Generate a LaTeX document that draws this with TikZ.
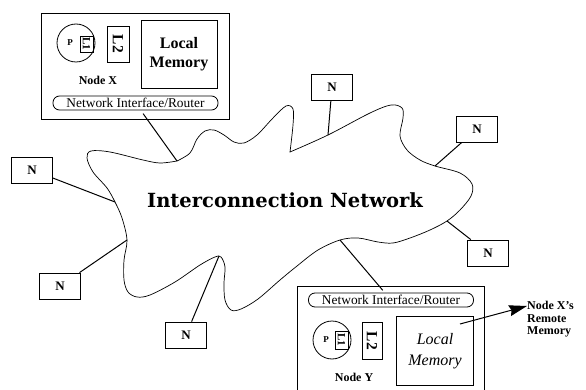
\documentclass[tikz,border=0pt]{standalone}
\usepackage{fontspec}
\setmainfont{Liberation Serif}
\newfontfamily\cloudfont{DejaVu Serif}
\usepackage{tikz}
\usetikzlibrary{positioning}
\usetikzlibrary{arrows.meta}
\tikzset{
    nbox/.style={draw, line width=0.8pt, minimum width=41pt, minimum height=26pt, inner sep=0pt, font=\fontsize{13}{13}\selectfont\bfseries}, % 外围结点 N
    hostbox/.style={draw, line width=0.8pt, inner sep=0pt}, % 结点外框
    router/.style={draw, rounded corners=6.5pt, line width=0.8pt, minimum width=165pt, minimum height=14pt, inner sep=0pt, font=\fontsize{13.4}{13.4}\selectfont}, % 网络接口
    cache/.style={draw, line width=0.8pt, rotate=-90, inner sep=0pt, font=\bfseries}, % L1 / L2
    link/.style={line width=1pt}, % 连线
    cloud/.style={line width=0.7pt} % 互连网络轮廓
}

\begin{document}
\begin{tikzpicture}[x=1pt, y=-1pt]
          \clip (0,0) rectangle (586,390);

          % --- 1. 互连网络 (云) ---
          \draw[cloud]
              plot[smooth, tension=0.55] coordinates {(177,161) (190,153) (197,139) (205,131) (214,130) (224,135) (234,142) (244,143) (257,135) (273,118) (286,106) (293,109) (293,125) (290,152)}
              -- plot[smooth, tension=0.55] coordinates {(290,152) (328,135) (370,113) (391,105) (402,108) (403,118) (400,136) (407,150) (420,160) (435,166) (460,173) (472,184) (471,196) (460,210) (447,221) (430,230) (410,238) (393,243) (378,242) (358,238) (340,240) (318,250) (297,266) (280,280) (258,299) (241,309) (231,310) (225,300) (224,283) (225,267) (221,257) (215,257) (200,265) (175,282) (150,295) (137,297) (128,292) (124,280) (124,260) (127,240) (122,218) (115,202) (107,188) (93,172) (87,158) (91,151) (110,152) (143,160) (160,163) (177,161)}
              -- cycle;
          \node[font=\cloudfont\fontsize{19.5}{19.5}\selectfont\bfseries] (net) at (285,200) {Interconnection Network};

          % 云上的连接点
          \coordinate (cX) at (177,161);
          \coordinate (cY) at (340,240);
          \coordinate (t1) at (328,135);
          \coordinate (t2) at (435,166);
          \coordinate (t3) at (115,202);
          \coordinate (t4) at (447,221);
          \coordinate (t5) at (127,240);
          \coordinate (t6) at (219,256);

          % --- 2. Node X ---
          \node[hostbox, minimum width=188pt, minimum height=106pt] (nodeX) at (135,66) {};
          \node[draw, circle, line width=0.8pt, minimum size=38pt, inner sep=0pt] (procX) at (76,43) {};
          \node[font=\fontsize{9}{9}\selectfont\bfseries] (pX) at (70,43) {P};
          \node[cache, minimum width=16pt, minimum height=13pt, font=\fontsize{11}{11}\selectfont\bfseries] (l1X) at (86.5,44) {L1};
          \node[cache, minimum width=36pt, minimum height=22pt, font=\fontsize{15.5}{15.5}\selectfont\bfseries] (l2X) at (118,44) {L2};
          \node[hostbox, minimum width=76pt, minimum height=68pt, align=center, font=\fontsize{16}{19}\selectfont\bfseries] (memX) at (179,54) {Local\\Memory};
          \node[font=\fontsize{12}{12}\selectfont\bfseries] (labelX) at (98,80) {Node X};
          \node[router] (niX) at (135.5,103) {Network Interface/Router};

          % --- 3. Node Y ---
          \node[hostbox, minimum width=187pt, minimum height=120pt, anchor=north west] (nodeY) at (297,286) {};
          \node[router] (niY) at (391,300) {Network Interface/Router};
          \node[draw, circle, line width=0.8pt, minimum size=38pt, inner sep=0pt] (procY) at (332,340) {};
          \node[font=\fontsize{9}{9}\selectfont\bfseries] (pY) at (326,340) {P};
          \node[cache, minimum width=18pt, minimum height=13pt, font=\fontsize{11}{11}\selectfont\bfseries] (l1Y) at (341.5,340) {L1};
          \node[cache, minimum width=37pt, minimum height=20pt, font=\fontsize{15.5}{15.5}\selectfont\bfseries] (l2Y) at (372,341) {L2};
          \node[hostbox, minimum width=77pt, minimum height=69pt, align=center, font=\fontsize{16}{21}\selectfont\itshape] (memY) at (435,351) {Local\\Memory};
          \node[font=\fontsize{12}{12}\selectfont\bfseries] (labelY) at (354,377) {Node Y};

          \draw[link, shorten <=4pt] (niX) -- (cX);
          \draw[link, shorten >=3pt] (cY) -- (niY);

          % --- 4. 外围结点 N 及其连线 ---
          \foreach \name / \pos / \tip in {
              n1/{(332,87)}/t1,
              n2/{(477,129)}/t2,
              n3/{(32,170)}/t3,
              n4/{(488,253)}/t4,
              n5/{(60,286)}/t5,
              n6/{(186,335)}/t6%
          } {
              \node[nbox] (\name) at \pos {N};
              \draw[link] (\name) -- (\tip);
          }

          % --- 5. 远程存储 ---
          \coordinate (remoteTail) at (460,324);
          \node[anchor=north west, align=left, inner sep=0pt, font=\fontsize{12}{12.5}\selectfont\bfseries] (remote) at (527,301) {Node X's\\Remote\\Memory};
          \draw[link, -{Stealth[length=18pt, width=11pt, inset=2pt]}] (remoteTail) -- (remote.west |- 0,306);

      \end{tikzpicture}
\end{document}
